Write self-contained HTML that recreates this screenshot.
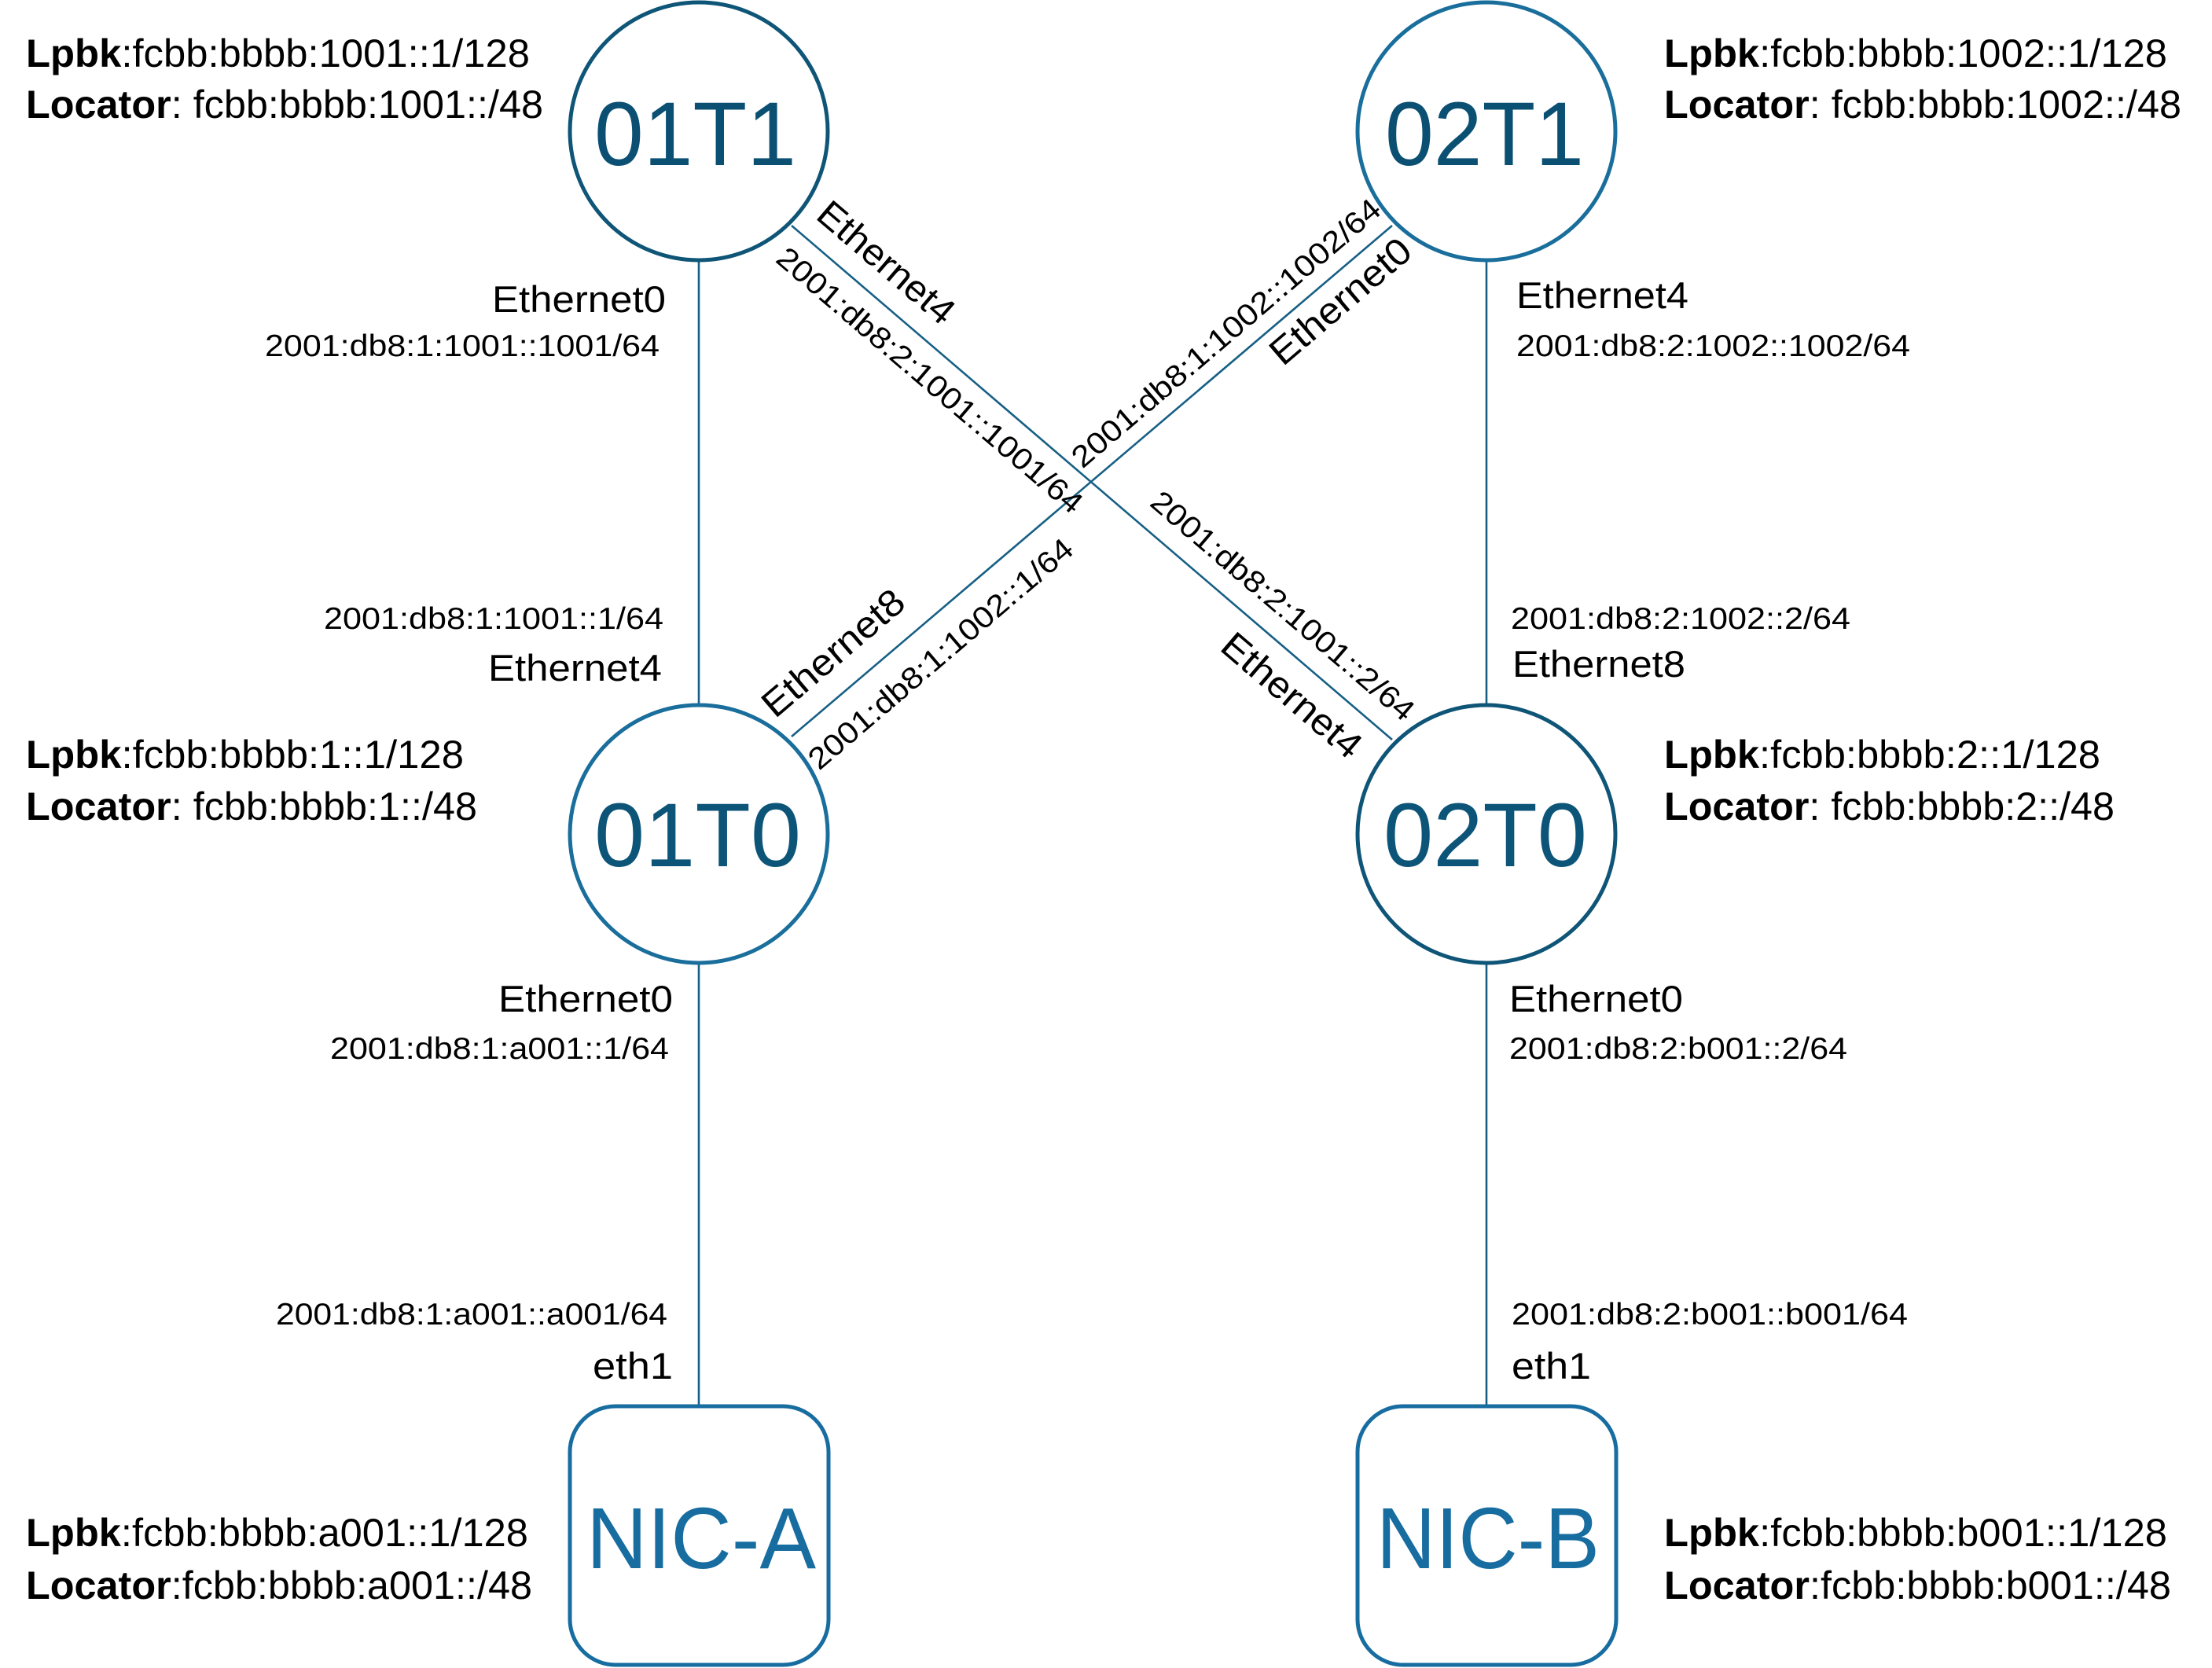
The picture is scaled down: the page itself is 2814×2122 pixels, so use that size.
<!DOCTYPE html>
<html>
<head>
<meta charset="utf-8">
<style>
  html, body { margin: 0; padding: 0; background: #ffffff; }
  svg { display: block; }
  text { font-family: "Liberation Sans", Arial, sans-serif; fill: #000; }
  .lp { font-size: 50px; }
  .eth { font-size: 47.5px; }
  .addr { font-size: 38.5px; }
  .node { font-size: 115px; }
  .nic { font-size: 110px; fill: #176ca0; }
</style>
</head>
<body>
<svg width="2814" height="2122" viewBox="0 0 2814 2122" xmlns="http://www.w3.org/2000/svg">
  <rect x="0" y="0" width="2814" height="2122" fill="#ffffff"/>

  <!-- connectors -->
  <g stroke="#175f85" stroke-width="2.6" fill="none">
    <line x1="889" y1="331" x2="889" y2="897"/>
    <line x1="1891" y1="331" x2="1891" y2="897"/>
    <line x1="889" y1="1225" x2="889" y2="1789"/>
    <line x1="1891" y1="1225" x2="1891" y2="1789"/>
    <line x1="1007" y1="287" x2="1771" y2="941"/>
    <line x1="1007" y1="937" x2="1771" y2="287"/>
  </g>

  <!-- nodes -->
  <circle cx="889" cy="167" r="164" fill="none" stroke="#0f5577" stroke-width="5"/>
  <circle cx="1891" cy="167" r="164" fill="none" stroke="#1a6e9c" stroke-width="5"/>
  <circle cx="889" cy="1061" r="164" fill="none" stroke="#1a6e9c" stroke-width="5"/>
  <circle cx="1891" cy="1061" r="164" fill="none" stroke="#0f5577" stroke-width="5"/>
  <rect x="725" y="1789" width="329" height="329" rx="58" ry="58" fill="none" stroke="#176ca0" stroke-width="5"/>
  <rect x="1727" y="1789" width="329" height="329" rx="58" ry="58" fill="none" stroke="#176ca0" stroke-width="5"/>

  <!-- node labels -->
  <text class="node" x="756" y="210" textLength="257" lengthAdjust="spacingAndGlyphs" style="fill:#0b5073">01T1</text>
  <text class="node" x="1762" y="210" textLength="253" lengthAdjust="spacingAndGlyphs" style="fill:#0b5073">02T1</text>
  <text class="node" x="756" y="1102" textLength="263" lengthAdjust="spacingAndGlyphs" style="fill:#0d5578">01T0</text>
  <text class="node" x="1760" y="1102" textLength="259" lengthAdjust="spacingAndGlyphs" style="fill:#0d5578">02T0</text>
  <text class="nic" x="746" y="1995" textLength="292" lengthAdjust="spacingAndGlyphs">NIC-A</text>
  <text class="nic" x="1751" y="1995" textLength="284" lengthAdjust="spacingAndGlyphs">NIC-B</text>

  <!-- loopback / locator blocks -->
  <text class="lp" x="33" y="85" textLength="641" lengthAdjust="spacingAndGlyphs"><tspan font-weight="bold">Lpbk</tspan>:fcbb:bbbb:1001::1/128</text>
  <text class="lp" x="33" y="150" textLength="658" lengthAdjust="spacingAndGlyphs"><tspan font-weight="bold">Locator</tspan>: fcbb:bbbb:1001::/48</text>

  <text class="lp" x="2117" y="85" textLength="640" lengthAdjust="spacingAndGlyphs"><tspan font-weight="bold">Lpbk</tspan>:fcbb:bbbb:1002::1/128</text>
  <text class="lp" x="2117" y="150" textLength="658" lengthAdjust="spacingAndGlyphs"><tspan font-weight="bold">Locator</tspan>: fcbb:bbbb:1002::/48</text>

  <text class="lp" x="33" y="977" textLength="557" lengthAdjust="spacingAndGlyphs"><tspan font-weight="bold">Lpbk</tspan>:fcbb:bbbb:1::1/128</text>
  <text class="lp" x="33" y="1043" textLength="574" lengthAdjust="spacingAndGlyphs"><tspan font-weight="bold">Locator</tspan>: fcbb:bbbb:1::/48</text>

  <text class="lp" x="2117" y="977" textLength="555" lengthAdjust="spacingAndGlyphs"><tspan font-weight="bold">Lpbk</tspan>:fcbb:bbbb:2::1/128</text>
  <text class="lp" x="2117" y="1043" textLength="573" lengthAdjust="spacingAndGlyphs"><tspan font-weight="bold">Locator</tspan>: fcbb:bbbb:2::/48</text>

  <text class="lp" x="33" y="1967" textLength="639" lengthAdjust="spacingAndGlyphs"><tspan font-weight="bold">Lpbk</tspan>:fcbb:bbbb:a001::1/128</text>
  <text class="lp" x="33" y="2034" textLength="644" lengthAdjust="spacingAndGlyphs"><tspan font-weight="bold">Locator</tspan>:fcbb:bbbb:a001::/48</text>

  <text class="lp" x="2117" y="1967" textLength="640" lengthAdjust="spacingAndGlyphs"><tspan font-weight="bold">Lpbk</tspan>:fcbb:bbbb:b001::1/128</text>
  <text class="lp" x="2117" y="2034" textLength="645" lengthAdjust="spacingAndGlyphs"><tspan font-weight="bold">Locator</tspan>:fcbb:bbbb:b001::/48</text>

  <!-- vertical link labels -->
  <text class="eth" x="626" y="397" textLength="221" lengthAdjust="spacingAndGlyphs">Ethernet0</text>
  <text class="addr" x="337" y="453" textLength="502" lengthAdjust="spacingAndGlyphs">2001:db8:1:1001::1001/64</text>

  <text class="eth" x="1929" y="392" textLength="219" lengthAdjust="spacingAndGlyphs">Ethernet4</text>
  <text class="addr" x="1929" y="453" textLength="501" lengthAdjust="spacingAndGlyphs">2001:db8:2:1002::1002/64</text>

  <text class="addr" x="412" y="800" textLength="432" lengthAdjust="spacingAndGlyphs">2001:db8:1:1001::1/64</text>
  <text class="eth" x="621" y="866" textLength="221" lengthAdjust="spacingAndGlyphs">Ethernet4</text>

  <text class="addr" x="1922" y="800" textLength="432" lengthAdjust="spacingAndGlyphs">2001:db8:2:1002::2/64</text>
  <text class="eth" x="1924" y="861" textLength="220" lengthAdjust="spacingAndGlyphs">Ethernet8</text>

  <text class="eth" x="634" y="1287" textLength="222" lengthAdjust="spacingAndGlyphs">Ethernet0</text>
  <text class="addr" x="420" y="1347" textLength="431" lengthAdjust="spacingAndGlyphs">2001:db8:1:a001::1/64</text>

  <text class="eth" x="1920" y="1287" textLength="221" lengthAdjust="spacingAndGlyphs">Ethernet0</text>
  <text class="addr" x="1920" y="1347" textLength="430" lengthAdjust="spacingAndGlyphs">2001:db8:2:b001::2/64</text>

  <text class="addr" x="351" y="1685" textLength="498" lengthAdjust="spacingAndGlyphs">2001:db8:1:a001::a001/64</text>
  <text class="eth" x="754" y="1754" textLength="102" lengthAdjust="spacingAndGlyphs">eth1</text>

  <text class="addr" x="1923" y="1685" textLength="504" lengthAdjust="spacingAndGlyphs">2001:db8:2:b001::b001/64</text>
  <text class="eth" x="1923" y="1754" textLength="101" lengthAdjust="spacingAndGlyphs">eth1</text>

  <!-- diagonal link labels: line A (01T1 -> 02T0) -->
  <text class="eth" x="0" y="0" transform="translate(1036,277) rotate(40.5)" textLength="213" lengthAdjust="spacingAndGlyphs">Ethernet4</text>
  <text class="addr" x="0" y="0" transform="translate(985,332) rotate(40.5)" textLength="498" lengthAdjust="spacingAndGlyphs">2001:db8:2:1001::1001/64</text>
  <text class="addr" x="0" y="0" transform="translate(1461,642) rotate(40.5)" textLength="427" lengthAdjust="spacingAndGlyphs">2001:db8:2:1001::2/64</text>
  <text class="eth" x="0" y="0" transform="translate(1550,826) rotate(40.5)" textLength="218" lengthAdjust="spacingAndGlyphs">Ethernet4</text>

  <!-- diagonal link labels: line B (01T0 -> 02T1) -->
  <text class="eth" x="0" y="0" transform="translate(986,915) rotate(-40.5)" textLength="222" lengthAdjust="spacingAndGlyphs">Ethernet8</text>
  <text class="addr" x="0" y="0" transform="translate(1042,981) rotate(-40.5)" textLength="429" lengthAdjust="spacingAndGlyphs">2001:db8:1:1002::1/64</text>
  <text class="addr" x="0" y="0" transform="translate(1377,597) rotate(-40.5)" textLength="503" lengthAdjust="spacingAndGlyphs">2001:db8:1:1002::1002/64</text>
  <text class="eth" x="0" y="0" transform="translate(1632,467) rotate(-40.5)" textLength="220" lengthAdjust="spacingAndGlyphs">Ethernet0</text>
</svg>
</body>
</html>
